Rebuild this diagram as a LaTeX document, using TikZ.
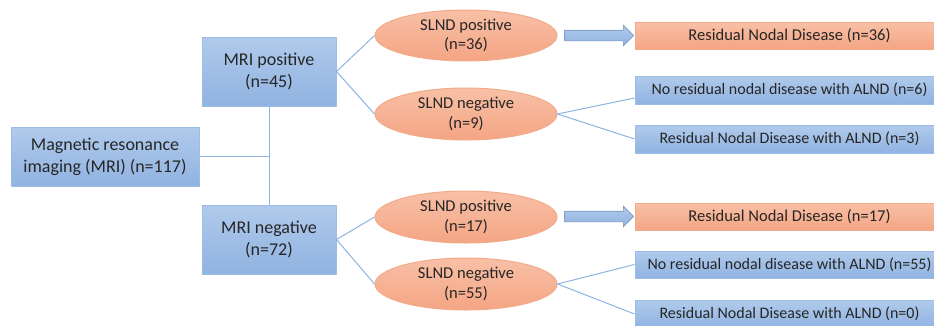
\documentclass[tikz,border=0pt]{standalone}
\usepackage{fontspec}
\setmainfont{Carlito}
\usetikzlibrary{shapes.geometric,shapes.arrows}

\definecolor{bluetop}{HTML}{B0CAEB}
\definecolor{bluebot}{HTML}{90B3E1}
\definecolor{blueline}{HTML}{9BBDE6}
\definecolor{orgtop}{HTML}{F8C0A6}
\definecolor{orgbot}{HTML}{F4A584}
\definecolor{orgline}{HTML}{F2AB8A}
\definecolor{wire}{HTML}{8DB3E2}
\definecolor{ink}{HTML}{262626}

\tikzset{
  bluebox/.style={rectangle,top color=bluetop,bottom color=bluebot,draw=blueline,line width=0.75pt,align=center,inner sep=0pt,font=\fontsize{13.5}{16.5}\selectfont},
  orgbox/.style={rectangle,top color=orgtop,bottom color=orgbot,draw=orgline,line width=0.75pt,align=center,inner sep=0pt,font=\fontsize{12.4}{15}\selectfont},
  slnd/.style={ellipse,top color=orgtop,bottom color=orgbot,draw=orgline,line width=0.75pt,align=center,inner sep=0pt,font=\fontsize{12.4}{14.5}\selectfont},
  outbox/.style={bluebox,font=\fontsize{12}{15}\selectfont},
  blockarrow/.style={single arrow,top color=bluetop,bottom color=bluebot,draw=wire!85!black,line width=0.5pt,inner xsep=0pt,inner ysep=3.75pt,single arrow head extend=3.75pt,single arrow head indent=0pt},
  wire/.style={draw=wire,line width=0.75pt}
}

\begin{document}
\begin{tikzpicture}[x=0.75pt,y=-0.75pt,text=ink]

  \def\u{0.75pt}
  \useasboundingbox (0,0) rectangle (934,325);

  % MRI
  \node[bluebox,minimum width=188*\u,minimum height=59*\u] (root) at (105,156.5) {Magnetic resonance\\imaging (MRI) (n=117)};
  \node[bluebox,minimum width=134*\u,minimum height=69*\u] (mripos) at (269,71.5) {MRI positive\\(n=45)};
  \node[bluebox,minimum width=134*\u,minimum height=69*\u] (mrineg) at (269,239.5) {MRI negative\\(n=72)};

  % SLND
  \node[slnd,minimum width=182*\u,minimum height=51*\u] (slndposA) at (466,35.5) {SLND positive\\(n=36)};
  \node[slnd,minimum width=182*\u,minimum height=52*\u] (slndnegA) at (466,114) {SLND negative\\(n=9)};
  \node[slnd,minimum width=182*\u,minimum height=52*\u] (slndposB) at (466,217) {SLND positive\\(n=17)};
  \node[slnd,minimum width=182*\u,minimum height=52*\u] (slndnegB) at (466,284) {SLND negative\\(n=55)};

  % Outcomes
  \node[orgbox,minimum width=309*\u,minimum height=27*\u] (resA) at (789.5,35.5) {Residual Nodal Disease (n=36)};
  \node[outbox,minimum width=309*\u,minimum height=28*\u] (noresA) at (789.5,90) {No residual nodal disease with ALND (n=6)};
  \node[outbox,minimum width=309*\u,minimum height=28*\u] (alndA) at (789.5,139) {Residual Nodal Disease with ALND (n=3)};
  \node[orgbox,minimum width=309*\u,minimum height=27*\u] (resB) at (789.5,216.5) {Residual Nodal Disease (n=17)};
  \node[outbox,minimum width=309*\u,minimum height=27*\u] (noresB) at (789.5,264.5) {No residual nodal disease with ALND (n=55)};
  \node[outbox,minimum width=309*\u,minimum height=28*\u] (alndB) at (789.5,314) {Residual Nodal Disease with ALND (n=0)};

  % Arrows
  \node[blockarrow,minimum height=69*\u] (arrA) at (596.5,35.5) {};
  \node[blockarrow,minimum height=69*\u] (arrB) at (596.5,216.5) {};

  % Lines
  \draw[wire] (mripos.south) -- (mrineg.north) (root.east) -- (root.east -| mripos.south);
  \draw[wire] (slndposA.west) -- (mripos.east) -- (slndnegA.west);
  \draw[wire] (slndposB.west) -- (mrineg.east) -- (slndnegB.west);
  \draw[wire] ([yshift=-6pt]noresA.west) -- (slndnegA.east) -- (alndA.west);
  \draw[wire] (noresB.west) -- (slndnegB.east) -- (alndB.west);

\end{tikzpicture}
\end{document}
